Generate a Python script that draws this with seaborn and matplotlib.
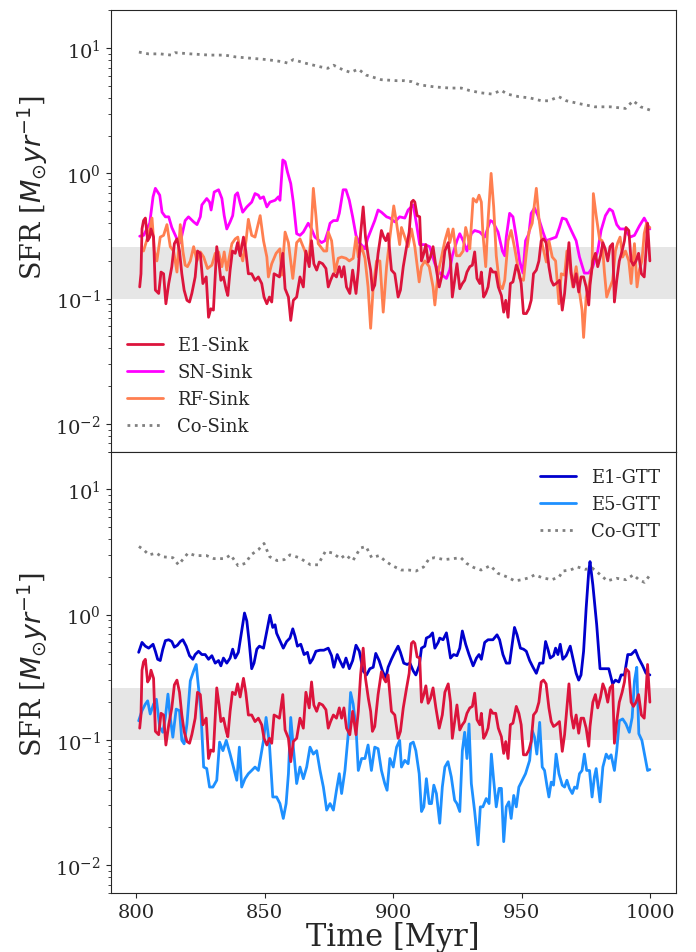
import numpy as np
import pandas as pd
import matplotlib
matplotlib.use("Agg")
import matplotlib.pyplot as plt
import seaborn as sns

# star formation rate vs time, sink runs (top) and gtt runs (bottom)
# values

# E1-Sink (drawn in both panels)
e1_sink_t = [801.3, 801.8, 802.2, 802.8, 803.5, 804.4, 805.2, 805.7, 806.7, 807.4,
             808.7, 809.6, 810.6, 811.5, 812.6, 813.8, 814.8, 815.8, 816.8, 817.7,
             818.6, 819.7, 820.7, 821.6, 822.9, 823.8, 824.9, 825.9, 827.2, 828.1,
             829.0, 830.0, 831.3, 832.2, 832.9, 833.9, 835.0, 835.6, 836.5, 837.4,
             838.5, 839.4, 840.4, 841.7, 842.6, 843.6, 844.9, 846.2, 847.5, 848.8,
             849.7, 850.8, 851.8, 852.7, 853.6, 854.6, 855.7, 857.0, 857.9, 859.2,
             860.1, 861.1, 862.4, 863.7, 865.0, 866.0, 867.3, 868.2, 869.1, 870.2,
             871.2, 872.5, 873.8, 874.7, 875.6, 876.7, 877.9, 879.0, 879.9, 880.8,
             881.8, 883.1, 884.2, 885.5, 886.4, 887.3, 888.3, 889.2, 890.3, 891.2,
             891.9, 892.8, 894.1, 895.4, 896.3, 897.1, 898.0, 899.3, 900.6, 901.9,
             902.8, 903.9, 905.2, 906.2, 907.1, 907.8, 908.4, 909.3, 910.3, 911.0,
             911.9, 912.7, 913.6, 914.5, 915.5, 916.6, 917.9, 919.1, 920.1, 921.4,
             922.3, 923.0, 923.9, 924.8, 925.9, 926.9, 927.8, 928.7, 929.8, 930.8,
             931.7, 932.6, 933.7, 934.3, 935.2, 936.0, 936.9, 937.9, 938.8, 939.9,
             940.9, 942.1, 943.0, 943.8, 944.7, 945.6, 946.6, 947.9, 948.9, 949.8,
             950.7, 951.8, 952.8, 953.7, 954.6, 955.7, 956.7, 957.6, 958.5, 959.5,
             960.6, 961.5, 962.4, 963.4, 964.7, 965.8, 966.7, 967.6, 968.4, 969.3,
             970.2, 971.2, 972.2, 973.1, 974.1, 975.1, 976.1, 976.6, 977.7, 978.7,
             979.6, 980.7, 981.6, 982.5, 983.5, 984.4, 985.4, 986.1, 987.0, 988.0,
             989.1, 990.0, 990.6, 991.7, 992.6, 993.5, 994.5, 995.5, 996.6, 997.7,
             998.4, 999.0, 999.4, 999.9]
e1_sink = [0.124, 0.158, 0.36, 0.42, 0.44, 0.29, 0.31, 0.36, 0.31, 0.117,
           0.11, 0.163, 0.158, 0.091, 0.132, 0.18, 0.275, 0.30, 0.24, 0.158,
           0.117, 0.097, 0.094, 0.11, 0.149, 0.24, 0.23, 0.132, 0.149, 0.071,
           0.083, 0.081, 0.26, 0.19, 0.14, 0.149, 0.117, 0.106, 0.169, 0.24,
           0.23, 0.28, 0.22, 0.31, 0.24, 0.158, 0.158, 0.14, 0.149, 0.132,
           0.103, 0.091, 0.103, 0.094, 0.158, 0.154, 0.149, 0.23, 0.12, 0.103,
           0.067, 0.097, 0.103, 0.149, 0.124, 0.24, 0.18, 0.29, 0.19, 0.169,
           0.196, 0.19, 0.174, 0.124, 0.14, 0.158, 0.149, 0.18, 0.149, 0.18,
           0.124, 0.11, 0.169, 0.11, 0.169, 0.33, 0.54, 0.31, 0.215, 0.169,
           0.117, 0.128, 0.23, 0.35, 0.31, 0.29, 0.33, 0.169, 0.158, 0.103,
           0.117, 0.18, 0.26, 0.34, 0.59, 0.61, 0.59, 0.46, 0.45, 0.20,
           0.23, 0.27, 0.196, 0.215, 0.26, 0.18, 0.124, 0.158, 0.24, 0.28,
           0.20, 0.103, 0.14, 0.19, 0.12, 0.132, 0.14, 0.163, 0.18, 0.185,
           0.236, 0.145, 0.132, 0.163, 0.103, 0.11, 0.124, 0.174, 0.163, 0.163,
           0.124, 0.106, 0.078, 0.097, 0.071, 0.132, 0.136, 0.185, 0.163, 0.132,
           0.076, 0.076, 0.083, 0.097, 0.158, 0.169, 0.20, 0.29, 0.30, 0.28,
           0.18, 0.14, 0.128, 0.132, 0.14, 0.081, 0.11, 0.18, 0.28, 0.158,
           0.124, 0.158, 0.113, 0.149, 0.149, 0.124, 0.089, 0.128, 0.20, 0.23,
           0.18, 0.22, 0.28, 0.25, 0.20, 0.26, 0.275, 0.094, 0.14, 0.20,
           0.24, 0.29, 0.37, 0.35, 0.20, 0.185, 0.20, 0.23, 0.158, 0.149,
           0.24, 0.40, 0.29, 0.20]

# SN-Sink
sn_sink_t = [801.3, 802.8, 805.2, 806.5, 807.4, 809.1, 810.0, 811.3, 812.6, 813.8,
             815.8, 817.1, 819.0, 820.3, 822.3, 823.6, 824.9, 825.5, 827.4, 828.5,
             829.1, 830.3, 832.0, 833.3, 834.2, 835.2, 836.5, 837.5, 838.5, 839.4,
             840.4, 841.4, 843.0, 844.9, 846.2, 847.5, 848.2, 849.5, 850.8, 852.0,
             854.0, 855.3, 855.9, 857.0, 857.9, 858.8, 860.1, 861.1, 862.4, 863.7,
             865.0, 866.9, 868.2, 869.5, 872.1, 873.4, 874.7, 875.4, 876.7, 878.2,
             879.0, 880.5, 881.6, 882.9, 884.2, 885.5, 886.8, 889.0, 890.0, 891.5,
             892.8, 894.1, 895.4, 897.4, 898.7, 900.6, 902.5, 904.5, 905.8, 907.8,
             909.0, 910.3, 912.3, 914.2, 916.2, 918.1, 920.7, 922.0, 923.0, 924.8,
             925.9, 927.2, 928.7, 930.4, 931.7, 933.7, 935.6, 937.8, 938.8, 940.8,
             942.5, 943.4, 944.0, 945.3, 946.6, 947.9, 949.2, 950.5, 951.5, 952.8,
             953.7, 955.0, 956.3, 958.3, 959.5, 961.5, 963.4, 964.7, 965.8, 967.3,
             969.3, 971.2, 972.5, 974.4, 976.1, 977.7, 979.6, 980.9, 982.6, 984.2,
             985.4, 987.0, 988.3, 990.0, 992.2, 993.9, 995.8, 997.7, 999.0, 999.9]
sn_sink = [0.315, 0.32, 0.40, 0.65, 0.76, 0.67, 0.49, 0.45, 0.45, 0.37,
           0.30, 0.28, 0.42, 0.45, 0.41, 0.39, 0.45, 0.56, 0.63, 0.59,
           0.51, 0.71, 0.74, 0.63, 0.46, 0.36, 0.41, 0.46, 0.67, 0.70,
           0.58, 0.49, 0.54, 0.59, 0.69, 0.67, 0.63, 0.65, 0.54, 0.59,
           0.61, 0.65, 0.61, 1.28, 1.24, 1.03, 0.83, 0.59, 0.33, 0.32,
           0.34, 0.40, 0.36, 0.31, 0.28, 0.29, 0.35, 0.40, 0.42, 0.42,
           0.48, 0.74, 0.74, 0.61, 0.45, 0.32, 0.28, 0.25, 0.30, 0.36,
           0.42, 0.51, 0.49, 0.45, 0.44, 0.41, 0.45, 0.44, 0.51, 0.56,
           0.40, 0.27, 0.27, 0.26, 0.19, 0.16, 0.145, 0.17, 0.22, 0.29,
           0.33, 0.29, 0.24, 0.33, 0.35, 0.34, 0.31, 0.42, 0.41, 0.34,
           0.24, 0.22, 0.31, 0.48, 0.45, 0.31, 0.20, 0.16, 0.29, 0.33,
           0.48, 0.53, 0.46, 0.34, 0.29, 0.30, 0.31, 0.37, 0.44, 0.43,
           0.35, 0.29, 0.215, 0.16, 0.16, 0.18, 0.24, 0.35, 0.46, 0.52,
           0.50, 0.39, 0.36, 0.36, 0.31, 0.32, 0.38, 0.44, 0.39, 0.36]

# RF-Sink
rf_sink_t = [802.8, 804.8, 806.1, 807.0, 808.0, 809.3, 810.6, 811.9, 813.2, 814.5,
             815.8, 817.1, 818.1, 819.0, 819.9, 821.0, 822.3, 823.6, 824.9, 826.2,
             827.7, 829.4, 830.7, 832.0, 833.3, 834.2, 835.2, 837.2, 838.5, 839.5,
             840.4, 841.4, 842.7, 843.6, 844.9, 846.2, 847.1, 848.2, 849.5, 850.8,
             851.4, 852.7, 854.4, 855.9, 856.6, 857.9, 859.2, 860.9, 862.4, 863.7,
             865.6, 866.9, 867.8, 868.9, 869.9, 870.8, 871.7, 873.0, 874.1, 874.7,
             876.0, 877.3, 878.6, 879.9, 881.6, 882.9, 884.4, 885.5, 886.4, 887.7,
             889.0, 890.2, 891.2, 892.2, 893.5, 894.8, 896.1, 897.4, 898.7, 900.2,
             901.3, 902.5, 903.2, 904.5, 905.8, 907.1, 908.4, 910.1, 911.0, 912.3,
             914.0, 915.5, 916.2, 917.5, 918.8, 920.1, 921.4, 922.0, 923.3, 924.6,
             925.9, 927.2, 928.2, 929.1, 929.8, 931.1, 932.4, 933.4, 934.3, 934.9,
             936.0, 936.9, 938.1, 939.1, 940.1, 941.4, 942.5, 943.4, 944.7, 945.9,
             947.3, 948.2, 949.2, 950.7, 951.8, 952.8, 954.1, 955.7, 956.7, 958.0,
             959.6, 960.6, 961.9, 963.2, 964.5, 965.4, 966.7, 967.6, 968.6, 969.9,
             971.2, 972.5, 973.5, 974.1, 975.1, 976.1, 977.4, 977.9, 979.0, 980.3,
             981.3, 982.2, 983.1, 984.2, 985.4, 986.5, 987.4, 988.3, 989.3, 990.4,
             991.7, 992.6, 993.9, 994.9, 995.8, 996.8, 997.7, 998.6, 999.4, 999.9]
rf_sink = [0.24, 0.33, 0.44, 0.24, 0.20, 0.31, 0.32, 0.39, 0.26, 0.24,
           0.163, 0.39, 0.24, 0.185, 0.18, 0.20, 0.26, 0.20, 0.236, 0.215,
           0.174, 0.185, 0.23, 0.236, 0.18, 0.236, 0.169, 0.275, 0.30, 0.31,
           0.24, 0.20, 0.29, 0.43, 0.32, 0.31, 0.37, 0.46, 0.29, 0.215,
           0.149, 0.19, 0.23, 0.25, 0.154, 0.34, 0.28, 0.145, 0.28, 0.30,
           0.24, 0.196, 0.28, 0.76, 0.46, 0.275, 0.26, 0.24, 0.24, 0.34,
           0.29, 0.163, 0.21, 0.215, 0.21, 0.20, 0.21, 0.31, 0.215, 0.26,
           0.21, 0.124, 0.058, 0.124, 0.20, 0.20, 0.078, 0.18, 0.31, 0.55,
           0.40, 0.27, 0.37, 0.31, 0.26, 0.36, 0.26, 0.136, 0.18, 0.20,
           0.18, 0.124, 0.089, 0.163, 0.215, 0.29, 0.36, 0.28, 0.36, 0.22,
           0.22, 0.24, 0.37, 0.31, 0.25, 0.63, 0.59, 0.67, 0.59, 0.33,
           0.18, 0.42, 1.0, 0.54, 0.22, 0.128, 0.12, 0.14, 0.29, 0.35,
           0.25, 0.196, 0.145, 0.14, 0.23, 0.34, 0.40, 0.76, 0.44, 0.27,
           0.196, 0.29, 0.215, 0.20, 0.091, 0.158, 0.154, 0.24, 0.19, 0.124,
           0.18, 0.113, 0.081, 0.049, 0.103, 0.124, 0.18, 0.69, 0.46, 0.30,
           0.29, 0.163, 0.103, 0.12, 0.14, 0.24, 0.28, 0.31, 0.215, 0.24,
           0.20, 0.132, 0.275, 0.124, 0.169, 0.20, 0.33, 0.40, 0.37, 0.37]

# Co-Sink
co_sink_t = [801.0, 804.7, 809.2, 813.6, 815.1, 821.0, 828.5, 834.4, 838.8, 844.8,
             850.8, 856.7, 858.9, 861.1, 865.6, 871.5, 874.5, 876.8, 880.5, 883.4,
             886.4, 889.4, 895.3, 901.2, 904.2, 907.2, 910.1, 916.2, 922.1, 926.5,
             929.5, 934.0, 938.4, 942.1, 944.3, 948.8, 953.3, 957.7, 960.6, 964.4,
             967.4, 972.5, 978.5, 984.5, 990.4, 993.4, 996.3, 1000.0]
co_sink = [9.3, 9.0, 9.0, 8.8, 9.2, 9.0, 8.8, 8.8, 8.5, 8.3,
           8.1, 7.8, 7.6, 8.1, 7.6, 7.1, 6.9, 7.3, 6.7, 6.4,
           6.8, 6.1, 5.6, 5.5, 5.5, 5.4, 5.1, 4.9, 4.8, 4.8,
           4.6, 4.4, 4.3, 4.6, 4.3, 4.1, 4.0, 3.8, 3.8, 4.1,
           3.8, 3.6, 3.4, 3.4, 3.3, 3.8, 3.4, 3.2]

# E1-GTT
e1_gtt_t = [800.9, 802.2, 803.5, 804.8, 806.5, 807.4, 808.3, 809.3, 810.3, 811.3,
            812.6, 813.8, 814.8, 816.0, 817.1, 818.1, 819.4, 820.7, 822.0, 822.9,
            824.2, 825.5, 826.8, 828.1, 829.4, 830.7, 832.0, 832.9, 833.9, 835.2,
            836.5, 837.5, 838.5, 839.7, 841.0, 842.1, 843.0, 843.9, 844.9, 845.8,
            846.9, 847.9, 849.5, 850.8, 852.0, 853.1, 854.0, 854.6, 855.9, 857.2,
            858.5, 859.8, 860.9, 861.8, 862.7, 864.0, 865.3, 866.6, 867.6, 868.6,
            869.9, 871.5, 873.0, 874.7, 876.0, 876.9, 878.2, 879.2, 880.5, 881.6,
            882.9, 884.2, 885.5, 886.8, 888.3, 889.6, 890.9, 892.2, 893.2, 894.5,
            895.8, 897.1, 898.0, 899.3, 900.6, 901.9, 902.8, 904.1, 905.4, 906.5,
            907.8, 908.8, 910.1, 911.0, 912.3, 912.9, 914.2, 915.3, 916.2, 917.5,
            918.1, 919.4, 920.7, 921.3, 922.3, 923.5, 924.8, 925.9, 926.9, 928.2,
            929.5, 931.1, 932.4, 933.4, 934.3, 935.6, 936.9, 938.8, 940.4, 941.4,
            942.7, 944.0, 945.3, 946.3, 947.2, 948.2, 949.5, 950.7, 951.8, 953.1,
            954.4, 955.7, 957.0, 958.3, 959.3, 960.2, 961.1, 962.4, 963.2, 964.1,
            965.0, 966.0, 967.3, 968.9, 969.9, 971.2, 972.2, 973.1, 974.1, 975.1,
            976.1, 976.6, 977.7, 979.2, 980.5, 982.2, 983.9, 985.4, 986.5, 987.8,
            988.7, 990.0, 991.3, 992.6, 994.3, 995.5, 997.1, 998.4, 999.9]
e1_gtt = [0.50, 0.60, 0.56, 0.54, 0.58, 0.51, 0.44, 0.43, 0.53, 0.62,
          0.63, 0.61, 0.55, 0.57, 0.61, 0.63, 0.56, 0.47, 0.44, 0.48,
          0.51, 0.48, 0.48, 0.44, 0.47, 0.41, 0.43, 0.39, 0.45, 0.41,
          0.45, 0.53, 0.45, 0.50, 0.74, 1.03, 0.89, 0.61, 0.37, 0.41,
          0.53, 0.56, 0.54, 0.74, 0.99, 0.79, 0.83, 0.71, 0.62, 0.54,
          0.61, 0.65, 0.77, 0.67, 0.56, 0.58, 0.48, 0.50, 0.41, 0.44,
          0.51, 0.52, 0.52, 0.54, 0.47, 0.38, 0.48, 0.43, 0.38, 0.45,
          0.37, 0.43, 0.57, 0.51, 0.355, 0.33, 0.37, 0.38, 0.49, 0.43,
          0.355, 0.31, 0.38, 0.44, 0.50, 0.56, 0.50, 0.41, 0.40, 0.41,
          0.355, 0.33, 0.39, 0.54, 0.56, 0.65, 0.67, 0.715, 0.54, 0.60,
          0.65, 0.63, 0.715, 0.61, 0.45, 0.48, 0.47, 0.54, 0.74, 0.58,
          0.48, 0.39, 0.45, 0.48, 0.44, 0.60, 0.63, 0.63, 0.69, 0.63,
          0.48, 0.41, 0.41, 0.58, 0.79, 0.69, 0.54, 0.53, 0.51, 0.43,
          0.38, 0.34, 0.41, 0.41, 0.61, 0.53, 0.45, 0.47, 0.54, 0.48,
          0.58, 0.44, 0.47, 0.56, 0.45, 0.34, 0.30, 0.33, 0.51, 1.13,
          2.21, 2.65, 1.73, 0.83, 0.37, 0.37, 0.37, 0.28, 0.30, 0.29,
          0.33, 0.33, 0.48, 0.48, 0.52, 0.45, 0.39, 0.34, 0.33]

# E5-GTT
e5_gtt_t = [800.9, 802.2, 803.5, 804.4, 805.4, 806.7, 807.8, 809.1, 810.3, 811.3,
            812.3, 813.2, 814.2, 815.5, 816.8, 817.7, 818.6, 819.7, 821.0, 822.3,
            823.3, 824.2, 825.1, 826.2, 827.4, 828.5, 829.8, 831.3, 832.4, 833.7,
            835.0, 836.5, 837.8, 839.1, 840.1, 841.0, 842.3, 843.6, 844.9, 846.2,
            847.5, 848.4, 849.5, 850.5, 851.8, 853.1, 854.6, 855.9, 857.2, 858.3,
            859.2, 860.1, 861.1, 862.4, 863.7, 865.0, 866.3, 867.6, 868.9, 870.2,
            871.5, 872.8, 874.1, 875.4, 876.7, 877.9, 879.0, 879.9, 881.2, 882.5,
            883.4, 884.4, 885.5, 886.4, 887.7, 889.0, 890.2, 891.5, 892.8, 894.1,
            895.4, 896.7, 897.6, 898.7, 900.0, 901.3, 902.5, 903.2, 904.5, 905.8,
            906.7, 907.8, 908.8, 910.1, 911.0, 911.9, 912.9, 914.0, 914.9, 915.8,
            916.8, 918.1, 919.1, 920.1, 921.3, 922.6, 923.9, 924.8, 925.9, 926.9,
            927.8, 928.7, 929.5, 930.4, 931.7, 933.0, 933.9, 934.9, 936.2, 937.3,
            938.2, 939.1, 940.1, 941.2, 942.1, 943.0, 944.0, 945.0, 945.9, 946.9,
            947.9, 948.9, 950.2, 951.5, 953.1, 954.1, 955.0, 955.9, 957.0, 958.0,
            958.9, 959.8, 960.6, 961.5, 962.4, 963.4, 964.5, 965.8, 966.7, 967.6,
            968.6, 969.7, 970.6, 971.5, 972.5, 973.5, 974.4, 975.3, 976.4, 977.4,
            978.3, 979.0, 980.5, 981.6, 982.9, 983.9, 984.8, 986.1, 987.0, 988.0,
            989.3, 990.6, 991.9, 993.0, 993.9, 994.8, 995.6, 996.8, 998.0, 999.0,
            999.9]
e5_gtt = [0.142, 0.171, 0.193, 0.205, 0.161, 0.193, 0.211, 0.126, 0.115, 0.151,
          0.232, 0.151, 0.105, 0.176, 0.171, 0.099, 0.093, 0.134, 0.296, 0.355,
          0.40, 0.26, 0.171, 0.0607, 0.059, 0.042, 0.042, 0.0476, 0.096, 0.082,
          0.099, 0.077, 0.0607, 0.0476, 0.0875, 0.042, 0.049, 0.0537, 0.057, 0.0607,
          0.057, 0.073, 0.099, 0.151, 0.093, 0.035, 0.035, 0.031, 0.0236, 0.031,
          0.0537, 0.151, 0.0875, 0.0448, 0.0607, 0.049, 0.0607, 0.0875, 0.077, 0.082,
          0.057, 0.042, 0.0275, 0.031, 0.0275, 0.0396, 0.0537, 0.0373, 0.057, 0.112,
          0.239, 0.193, 0.126, 0.057, 0.071, 0.071, 0.091, 0.057, 0.0875, 0.085,
          0.057, 0.0448, 0.0396, 0.071, 0.0607, 0.0875, 0.099, 0.0607, 0.0686, 0.0645,
          0.093, 0.096, 0.082, 0.0537, 0.0268, 0.0292, 0.049, 0.031, 0.031, 0.0435,
          0.0373, 0.0216, 0.042, 0.0607, 0.067, 0.0506, 0.033, 0.031, 0.0268, 0.082,
          0.115, 0.071, 0.134, 0.0448, 0.0268, 0.0145, 0.0292, 0.0292, 0.034, 0.031,
          0.077, 0.0476, 0.0292, 0.041, 0.041, 0.0154, 0.0292, 0.032, 0.0236, 0.036,
          0.0292, 0.042, 0.0476, 0.0537, 0.0686, 0.119, 0.105, 0.077, 0.138, 0.0607,
          0.057, 0.0435, 0.035, 0.046, 0.0435, 0.077, 0.0537, 0.0435, 0.042, 0.0476,
          0.041, 0.0373, 0.042, 0.041, 0.0537, 0.057, 0.077, 0.057, 0.057, 0.035,
          0.0506, 0.059, 0.032, 0.0607, 0.077, 0.071, 0.076, 0.057, 0.082, 0.142,
          0.147, 0.134, 0.115, 0.151, 0.296, 0.38, 0.112, 0.099, 0.073, 0.057,
          0.058]

# Co-GTT
co_gtt_t = [801.0, 802.8, 804.9, 807.8, 809.9, 814.2, 816.4, 820.1, 823.0, 827.3,
            830.2, 834.5, 836.7, 839.6, 842.5, 844.6, 847.5, 849.7, 851.9, 854.8,
            857.6, 859.8, 863.4, 867.8, 870.7, 873.6, 876.5, 879.4, 881.4, 884.3,
            887.2, 889.4, 891.6, 894.5, 896.7, 899.6, 903.2, 906.0, 908.9, 911.8,
            914.0, 916.2, 919.8, 923.4, 926.3, 928.5, 931.3, 934.2, 937.8, 940.7,
            944.3, 947.3, 950.1, 952.9, 955.1, 958.0, 961.7, 964.6, 966.0, 968.9,
            971.8, 974.7, 977.5, 980.4, 983.3, 986.9, 990.6, 993.5, 995.6, 997.8,
            1000.0]
co_gtt = [3.5, 3.3, 3.0, 3.1, 2.9, 2.85, 2.5, 3.1, 2.96, 2.96,
          2.8, 2.8, 3.0, 2.46, 2.57, 3.0, 3.3, 3.7, 2.9, 2.7,
          2.75, 3.0, 2.85, 2.5, 2.5, 3.2, 3.1, 2.8, 3.0, 2.7,
          3.4, 3.5, 2.85, 2.96, 2.7, 2.46, 2.27, 2.27, 2.23, 2.4,
          2.8, 2.85, 2.75, 2.8, 2.85, 2.57, 2.38, 2.27, 2.46, 2.14,
          2.0, 1.86, 1.9, 1.97, 2.08, 1.97, 1.9, 2.0, 2.23, 2.27,
          2.4, 2.3, 2.35, 2.1, 1.86, 1.95, 1.9, 2.08, 1.9, 1.81,
          2.08]

# observed sfr band
band_lo, band_hi = 0.1, 0.26

sns.set_style("ticks")
plt.rcParams['font.family'] = 'serif'
plt.rcParams['mathtext.fontset'] = 'dejavusans'

fig, (ax1, ax2) = plt.subplots(2, 1, figsize=(6.96, 9.53), dpi=100, sharex=True)
fig.subplots_adjust(left=0.159, right=0.971, top=0.988, bottom=0.062, hspace=0)


def draw(ax, t, v, color, label=None, ls='-'):
    df = pd.DataFrame({'t': t, 'sfr': v})
    sns.lineplot(data=df, x='t', y='sfr', ax=ax, color=color, lw=2, ls=ls,
                 estimator=None, sort=False, label=label, legend=False)
    return ax.lines[-1]


# top panel - sink runs
ax1.axhspan(band_lo, band_hi, color='0.9', zorder=0, lw=0)
h_sn = draw(ax1, sn_sink_t, sn_sink, 'magenta', 'SN-Sink')
h_rf = draw(ax1, rf_sink_t, rf_sink, 'coral', 'RF-Sink')
h_e1 = draw(ax1, e1_sink_t, e1_sink, 'crimson', 'E1-Sink')
h_co = draw(ax1, co_sink_t, co_sink, 'grey', 'Co-Sink', ls=':')
ax1.legend(handles=[h_e1, h_sn, h_rf, h_co], loc='lower left', frameon=False, fontsize=13)

# bottom panel - gtt runs
ax2.axhspan(band_lo, band_hi, color='0.9', zorder=0, lw=0)
h_g1 = draw(ax2, e1_gtt_t, e1_gtt, 'mediumblue', 'E1-GTT')
h_g5 = draw(ax2, e5_gtt_t, e5_gtt, 'dodgerblue', 'E5-GTT')
h_gc = draw(ax2, co_gtt_t, co_gtt, 'grey', 'Co-GTT', ls=':')
draw(ax2, e1_sink_t, e1_sink, 'crimson')
ax2.legend(handles=[h_g1, h_g5, h_gc], loc='upper right', frameon=False, fontsize=13)

ylab = r'SFR [$M_{\odot} yr^{-1}$]'
for ax, ly in ((ax1, 0.6), (ax2, 0.52)):
    ax.set_yscale('log')
    ax.set_ylim(0.006, 20)
    ax.set_xlim(790, 1010)
    ax.set_ylabel(ylab, fontsize=19.5, y=ly)
    ax.tick_params(labelsize=14)
    ax.set_xlabel('')

ax2.set_xticks([800, 850, 900, 950, 1000])
ax2.set_xlabel('Time [Myr]', fontsize=22, labelpad=0)

plt.savefig('out.png', dpi=100)
